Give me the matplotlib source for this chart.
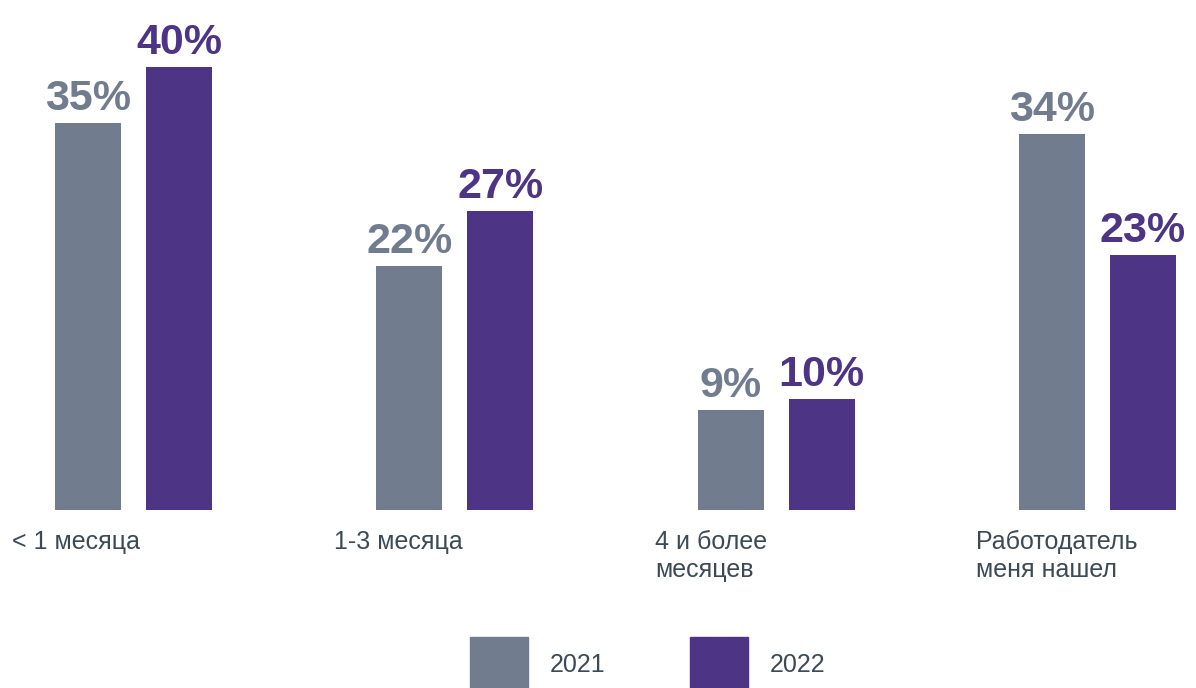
import matplotlib
matplotlib.use("Agg")
import matplotlib.pyplot as plt
from matplotlib.patches import Rectangle
import numpy as np

# данные
categories = ["< 1 месяца", "1-3 месяца", "4 и более\nмесяцев", "Работодатель\nменя нашел"]
years = ["2021", "2022"]
values_2021 = [35, 22, 9, 34]
values_2022 = [40, 27, 10, 23]

color_2021 = "#717d8e"
color_2022 = "#4e3484"
text_color = "#3c4a56"

label_font = ["Liberation Sans", "DejaVu Sans"]
value_font = ["Liberation Sans", "DejaVu Sans"]

fig = plt.figure(figsize=(11.96, 6.88), dpi=100)
ax = fig.add_axes([0, 178 / 688, 1, 510 / 688])

x = np.arange(len(categories))
w = 0.2054
off = 0.1416

b1 = ax.bar(x - off, values_2021, w, color=color_2021, label=years[0])
b2 = ax.bar(x + off, values_2022, w, color=color_2022, label=years[1])

for bars, vals, col in [(b1, values_2021, color_2021), (b2, values_2022, color_2022)]:
    for rect, v in zip(bars, vals):
        ax.annotate(f"{v}%", (rect.get_x() + rect.get_width() / 2, rect.get_height()),
                    xytext=(0, 4), textcoords="offset pixels", ha="center", va="bottom",
                    fontsize=31, fontweight="bold", color=col, family=value_font)

# подписи категорий под столбцами
for xi, cat in zip(x, categories):
    ax.text(xi - 0.377, -0.04, cat, transform=ax.get_xaxis_transform(), ha="left", va="top",
            fontsize=18, color=text_color, family=label_font, linespacing=1.2)

ax.set_xlim(-0.4155, 3.307)
ax.set_ylim(0, 46.07)
ax.axis("off")

# легенда вручную
for i, (yr, col) in enumerate(zip(years, [color_2021, color_2022])):
    x0 = 470 + i * 220
    fig.add_artist(Rectangle((x0 / 1196, 0), 58 / 1196, 51 / 688, color=col,
                             transform=fig.transFigure))
    fig.text((x0 + 80) / 1196, 23 / 688, yr, ha="left", va="center", fontsize=18,
             color=text_color, family=label_font)

fig.savefig("out.png", dpi=100)
